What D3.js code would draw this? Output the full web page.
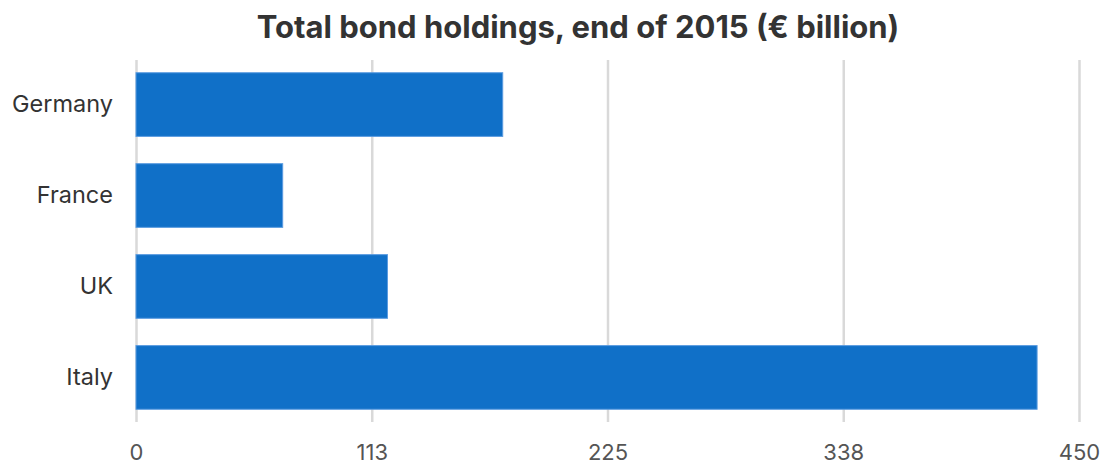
<!DOCTYPE html>
<html>
<head>
<meta charset="utf-8">
<script src="https://cdn.jsdelivr.net/npm/d3@7"></script>
<style>
  body { margin: 0; background: #fff; }
  text { font-family: Inter, "Noto Sans", sans-serif; }
</style>
</head>
<body>
<div id="container"></div>
<script>
const width = 1103,
  height = 464,
  margin = { top: 60, bottom: 42, left: 136, right: 24 }

// data
const countries = ["Germany", "France", "UK", "Italy"]
const holdings = [175, 70, 120, 430]
const tickValues = [0, 112.5, 225, 337.5, 450]
const tickLabels = ["0", "113", "225", "338", "450"]

const data = countries.map((c, i) => ({ country: c, value: holdings[i] }))

// SCALES
const xScale = d3.scaleLinear()
  .domain([0, 450])
  .range([margin.left, width - margin.right])

const yScale = d3.scaleBand()
  .domain(countries)
  .range([margin.top, height - margin.bottom])
  .paddingInner(0.3)
  .paddingOuter(0.14)

const svg = d3.select("#container")
  .append("svg")
  .attr("width", width)
  .attr("height", height)

// TITLE
svg.append("text")
  .attr("x", 578)
  .attr("y", 38)
  .attr("text-anchor", "middle")
  .attr("font-weight", "700")
  .attr("font-size", 31)
  .attr("fill", "#333")
  .text("Total bond holdings, end of 2015 (€ billion)")

// GRID + X AXIS
const xAxis = d3.axisBottom(xScale)
  .tickValues(tickValues)
  .tickFormat((d, i) => tickLabels[i])
  .tickSize(-(height - margin.bottom - margin.top))
  .tickPadding(22)

svg.append("g")
  .attr("transform", `translate(0,${height - margin.bottom})`)
  .call(xAxis)
  .call(g => g.select(".domain").remove())
  .call(g => g.selectAll(".tick line").attr("stroke", "#d9d9d9").attr("stroke-width", 2.5))
  .call(g => g.selectAll(".tick text")
    .attr("fill", "#555")
    .style("font-size", "22px")
    .style("font-family", "Inter, sans-serif"))

// BARS
svg.selectAll(".bar")
  .data(data)
  .join("rect")
  .attr("class", "bar")
  .attr("x", xScale(0))
  .attr("y", d => yScale(d.country))
  .attr("width", d => xScale(d.value) - xScale(0))
  .attr("height", yScale.bandwidth())
  .attr("fill", "#1070c8")
  .attr("stroke", "#5a9be0")
  .attr("stroke-width", 1)

// Y AXIS LABELS
const yAxis = d3.axisLeft(yScale).tickSize(0).tickPadding(23)
svg.append("g")
  .attr("transform", `translate(${margin.left},0)`)
  .call(yAxis)
  .call(g => g.select(".domain").remove())
  .call(g => g.selectAll(".tick text")
    .attr("fill", "#333")
    .style("font-size", "23.5px")
    .style("font-family", "Inter, sans-serif"))
</script>
</body>
</html>
